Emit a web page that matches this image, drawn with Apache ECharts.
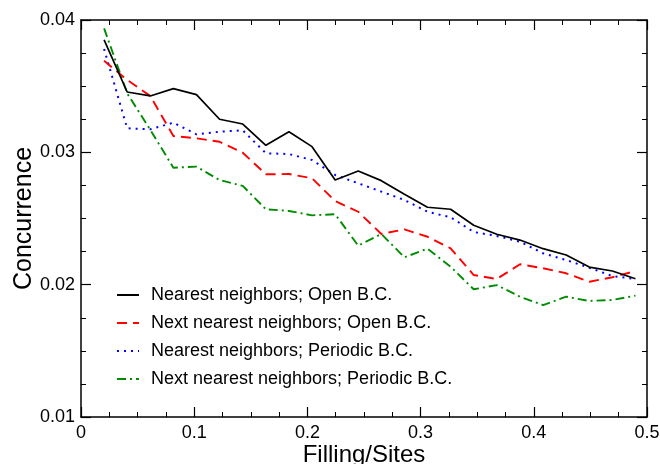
<!DOCTYPE html>
<html>
<head>
<meta charset="utf-8">
<script src="https://cdn.jsdelivr.net/npm/echarts@6/dist/echarts.min.js"></script>
<style>html,body{margin:0;padding:0;background:#fff}#c{width:660px;height:464px}</style>
</head>
<body>
<div id="c"></div>
<script>
var filling = [0.0204, 0.0408, 0.0612, 0.0816, 0.1020, 0.1224, 0.1429, 0.1633, 0.1837, 0.2041, 0.2245, 0.2449, 0.2653, 0.2857, 0.3061, 0.3265, 0.3469, 0.3673, 0.3878, 0.4082, 0.4286, 0.4490, 0.4694, 0.4898];
var nnOpen = [0.0385, 0.03456, 0.03426, 0.03481, 0.03436, 0.0325, 0.03214, 0.03053, 0.03156, 0.03043, 0.02791, 0.02859, 0.02786, 0.02683, 0.02585, 0.0257, 0.02449, 0.02381, 0.02337, 0.02272, 0.02224, 0.02133, 0.02103, 0.02045];
var nnnOpen = [0.03692, 0.03547, 0.03426, 0.03123, 0.03106, 0.0308, 0.02997, 0.02834, 0.02836, 0.02804, 0.02632, 0.02551, 0.02383, 0.02418, 0.02362, 0.02275, 0.02073, 0.02043, 0.02154, 0.02124, 0.02086, 0.02022, 0.02056, 0.02103];
var nnPeriodic = [0.03781, 0.03182, 0.03174, 0.03224, 0.03136, 0.03156, 0.03166, 0.02993, 0.02987, 0.02942, 0.02829, 0.02766, 0.02703, 0.0264, 0.02551, 0.02509, 0.02398, 0.02368, 0.02325, 0.02237, 0.02186, 0.02128, 0.02065, 0.02043];
var nnnPeriodic = [0.03937, 0.03446, 0.0317, 0.02884, 0.02892, 0.02791, 0.02746, 0.0257, 0.02557, 0.02524, 0.02532, 0.02295, 0.02383, 0.02207, 0.02272, 0.02136, 0.01965, 0.01997, 0.01909, 0.01846, 0.01909, 0.01877, 0.01884, 0.01917];
var seriesNames = ['Nearest neighbors; Open B.C.', 'Next nearest neighbors; Open B.C.', 'Nearest neighbors; Periodic B.C.', 'Next nearest neighbors; Periodic B.C.'];
var xTickLabels = ['0', '0.1', '0.2', '0.3', '0.4', '0.5'];
var yTickLabels = ['0.01', '0.02', '0.03', '0.04'];

function pairs(ys) { return ys.map(function (y, i) { return [filling[i], y]; }); }

var FONT = 'Liberation Sans';
var chart = echarts.init(document.getElementById('c'), null, {renderer: 'canvas'});

function baseAxis(extra) {
  var a = {
    axisLine: {show: true, onZero: false, lineStyle: {color: '#000', width: 1.5}},
    axisTick: {show: true, inside: true, length: 10, lineStyle: {color: '#000', width: 1.2}},
    minorTick: {show: true, splitNumber: 4, length: 5, lineStyle: {color: '#000', width: 1}},
    splitLine: {show: false},
    minorSplitLine: {show: false}
  };
  for (var k in extra) a[k] = extra[k];
  return a;
}

var styles = [
  {color: '#000000', type: 'solid', width: 1.7},
  {color: '#ff0000', type: [10, 6], width: 1.9},
  {color: '#0000ff', type: [2, 5], width: 2},
  {color: '#008c00', type: [9, 4, 2, 4], width: 1.9}
];
var data = [nnOpen, nnnOpen, nnPeriodic, nnnPeriodic];

chart.setOption({
  animation: false,
  backgroundColor: '#fff',
  grid: {left: 81, right: 13, top: 20, bottom: 47, containLabel: false, outerBoundsMode: 'none'},
  legend: {
    orient: 'vertical', left: 116, top: 286, padding: 0,
    itemWidth: 22, itemHeight: 14, itemGap: 10,
    itemStyle: {opacity: 0},
    textStyle: {fontFamily: FONT, fontSize: 18, color: '#000', padding: [0, 0, 0, 7]},
    data: seriesNames
  },
  xAxis: [
    baseAxis({type: 'value', min: 0, max: 0.5, interval: 0.1, position: 'bottom',
      name: 'Filling/Sites', nameLocation: 'middle', nameGap: 26, nameMoveOverlap: false,
      nameTextStyle: {fontFamily: FONT, fontSize: 24, color: '#000'},
      axisLabel: {fontFamily: FONT, fontSize: 18, color: '#000', margin: 7,
        formatter: function (v) { return xTickLabels[Math.round(v * 10)]; }}}),
    baseAxis({type: 'value', min: 0, max: 0.5, interval: 0.1, position: 'top',
      axisLabel: {show: false}})
  ],
  yAxis: [
    baseAxis({type: 'value', min: 0.01, max: 0.04, interval: 0.01, position: 'left',
      name: 'Concurrence', nameLocation: 'middle', nameGap: 44, nameRotate: 90, nameMoveOverlap: false,
      nameTextStyle: {fontFamily: FONT, fontSize: 25, color: '#000'},
      axisLabel: {fontFamily: FONT, fontSize: 18, color: '#000', margin: 6,
        formatter: function (v) { return yTickLabels[Math.round(v * 100) - 1]; }}}),
    baseAxis({type: 'value', min: 0.01, max: 0.04, interval: 0.01, position: 'right',
      axisLabel: {show: false}})
  ],
  series: seriesNames.map(function (n, i) {
    return {
      name: n, type: 'line', xAxisIndex: 0, yAxisIndex: 0,
      data: pairs(data[i]), symbol: 'none', showSymbol: false,
      itemStyle: {color: styles[i].color},
      lineStyle: {color: styles[i].color, type: styles[i].type, width: styles[i].width},
      z: 10 - i
    };
  })
});
</script>
</body>
</html>
